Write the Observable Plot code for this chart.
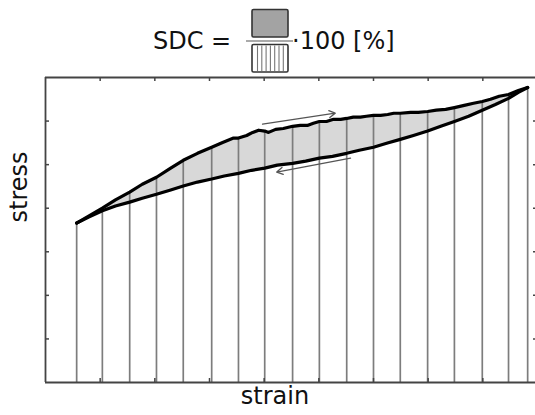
<!DOCTYPE html>
<html><head><meta charset="utf-8">
<script src="https://cdn.jsdelivr.net/npm/d3@7"></script>
<script src="https://cdn.jsdelivr.net/npm/@observablehq/plot@0.6"></script>
<style>
body{margin:0;background:#fff;font-family:"DejaVu Sans",sans-serif;}
#chart svg{display:block;}
</style></head><body>
<div id="chart"></div>
<script>
// Loading branch (upper curve)
const loadStrain = [0.57,0.82,1.04,1.28,1.54,1.77,2.03,2.29,2.52,2.78,3.04,3.24,3.44,3.53,3.68,3.79,3.90,4.01,4.08,4.21,4.35,4.52,4.66,4.79,4.90,5.01,5.14,5.27,5.40,5.51,5.63,5.76,5.87,6.00,6.13,6.26,6.37,6.49,6.68,6.82,6.99,7.15,7.32,7.48,7.66,7.83,7.99,8.14,8.30,8.47,8.65,8.82];
const loadStress = [3.66,3.84,4.00,4.19,4.37,4.55,4.71,4.92,5.10,5.26,5.40,5.51,5.61,5.61,5.67,5.74,5.79,5.77,5.74,5.81,5.83,5.88,5.90,5.90,5.95,5.99,5.99,6.04,6.04,6.06,6.09,6.09,6.11,6.13,6.13,6.15,6.18,6.18,6.20,6.20,6.22,6.25,6.27,6.31,6.36,6.41,6.45,6.50,6.57,6.61,6.70,6.77];
// Unloading branch (lower curve)
const unloadStrain = [0.57,0.80,1.04,1.28,1.54,1.77,2.03,2.29,2.52,2.78,3.04,3.27,3.53,3.77,4.01,4.24,4.52,4.76,5.01,5.25,5.51,5.74,6.00,6.24,6.49,6.73,6.99,7.23,7.48,7.74,7.99,8.23,8.47,8.65,8.82];
const unloadStress = [3.66,3.80,3.94,4.05,4.14,4.23,4.32,4.42,4.51,4.60,4.67,4.74,4.80,4.87,4.92,4.99,5.03,5.08,5.15,5.19,5.26,5.33,5.40,5.49,5.58,5.67,5.77,5.88,5.99,6.11,6.25,6.38,6.52,6.66,6.77];
// Strains at which the area under the loading curve is hatched
const hatchStrain = [0.57,1.04,1.54,2.03,2.52,3.04,3.53,4.01,4.52,5.01,5.51,6.00,6.49,6.99,7.48,7.99,8.47,8.82];
// Direction arrows: [strain1, stress1, strain2, stress2]
const arrowLoad = [3.97,5.93,5.30,6.18];
const arrowUnload = [5.58,5.15,4.23,4.83];
const strainTicks = [1,2,3,4,5,6,7,8];
const stressTicks = [1,2,3,4,5,6];
const titleLeft = "SDC =";
const titleRight = "·100 [%]";
const xLabel = "strain";
const yLabel = "stress";

const load = loadStrain.map((x,i)=>({x, y: loadStress[i]}));
const unload = unloadStrain.map((x,i)=>({x, y: unloadStress[i]}));
const loop = load.concat(unload.slice().reverse());
const hatch = load.filter(d => hatchStrain.includes(d.x));
const arrows = [arrowLoad, arrowUnload].map(a => ({x1:a[0], y1:a[1], x2:a[2], y2:a[3]}));

// Header formula
const head = d3.create("svg").attr("width",535).attr("height",76)
  .style("font-family","DejaVu Sans, sans-serif");
head.append("text").attr("x",153).attr("y",49).attr("font-size",24).attr("fill","#111").text(titleLeft);
head.append("rect").attr("x",252).attr("y",9.5).attr("width",36).attr("height",27.5).attr("rx",1.5)
  .attr("fill","#a3a3a3").attr("stroke","#333").attr("stroke-width",1.6);
head.append("line").attr("x1",246).attr("x2",293).attr("y1",41).attr("y2",41)
  .attr("stroke","#aaa").attr("stroke-width",2);
head.append("rect").attr("x",252).attr("y",44.5).attr("width",36).attr("height",27.5).attr("rx",1.5)
  .attr("fill","#fff").attr("stroke","#333").attr("stroke-width",1.6);
head.selectAll("line.h").data(d3.range(7)).join("line").attr("class","h")
  .attr("x1",d=>257.5+d*4.3).attr("x2",d=>257.5+d*4.3).attr("y1",45.5).attr("y2",71)
  .attr("stroke","#777").attr("stroke-width",1.1);
head.append("text").attr("x",292).attr("y",49).attr("font-size",24).attr("fill","#111").text(titleRight);
document.getElementById("chart").append(head.node());

const frameStroke = "#444";
const plot = Plot.plot({
  width: 535,
  height: 339,
  marginLeft: 45,
  marginRight: -2,
  marginTop: 1,
  marginBottom: 33,
  style: {fontFamily: "DejaVu Sans, sans-serif", background: "#fff", overflow: "visible"},
  x: {domain: [0, 9], range: [45, 537], axis: null},
  y: {domain: [0, 7], range: [306, 1], axis: null},
  marks: [
    Plot.line(loop, {x: "x", y: "y", fill: "#d8d8d8", stroke: "none"}),
    Plot.ruleX(hatch, {x: "x", y1: 0, y2: "y", stroke: "#7d7d7d", strokeWidth: 1.7}),
    Plot.line(load, {x: "x", y: "y", stroke: "#000", strokeWidth: 3.2}),
    Plot.line(unload, {x: "x", y: "y", stroke: "#000", strokeWidth: 3.2}),
    Plot.arrow(arrows, {x1: "x1", y1: "y1", x2: "x2", y2: "y2", stroke: "#555", strokeWidth: 1.3, headLength: 8, bend: 0}),
    Plot.ruleY([0], {stroke: frameStroke, strokeWidth: 1.8}),
    Plot.ruleY([7], {stroke: frameStroke, strokeWidth: 1.8}),
    Plot.ruleX([0], {stroke: frameStroke, strokeWidth: 1.8}),
    Plot.ruleX([9], {stroke: frameStroke, strokeWidth: 1.8}),
    Plot.ruleX(strainTicks, {stroke: frameStroke, strokeWidth: 1.5, insetTop: 301}),
    Plot.ruleX(strainTicks, {stroke: frameStroke, strokeWidth: 1.5, insetBottom: 301}),
    Plot.ruleY(stressTicks, {stroke: frameStroke, strokeWidth: 1.5, insetRight: 488}),
    Plot.ruleY(stressTicks, {stroke: frameStroke, strokeWidth: 1.5, insetLeft: 488}),
    Plot.text([xLabel], {frameAnchor: "bottom", dx: -16.5, dy: 21.3, fontSize: 24, fill: "#111"}),
    Plot.text([yLabel], {frameAnchor: "left", rotate: -90, dx: -25.7, dy: -7.5, fontSize: 24, fill: "#111"})
  ]
});
document.getElementById("chart").append(plot);
</script>
</body></html>
